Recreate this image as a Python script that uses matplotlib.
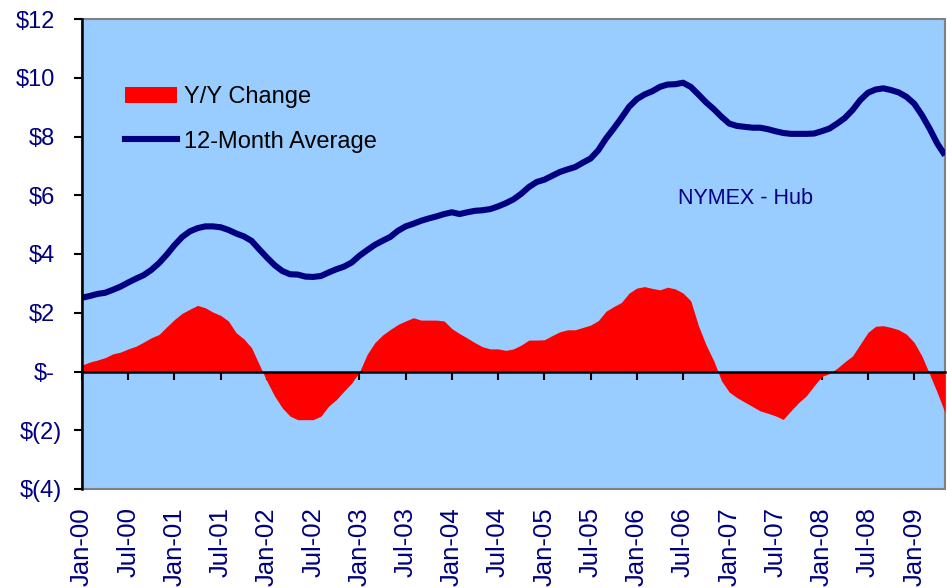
import matplotlib
matplotlib.use("Agg")
import matplotlib.pyplot as plt
import numpy as np
from matplotlib.patches import Rectangle, Patch
from matplotlib.lines import Line2D

plt.rcParams['font.family'] = ['Liberation Sans', 'DejaVu Sans']

# Monthly data Jan-00 .. May-09
avg12 = [2.51, 2.57, 2.64, 2.68, 2.78, 2.89, 3.03, 3.16, 3.28, 3.46, 3.69, 3.98,
         4.30, 4.58, 4.77, 4.88, 4.94, 4.94, 4.91, 4.82, 4.70, 4.60, 4.45, 4.16,
         3.88, 3.62, 3.42, 3.31, 3.30, 3.23, 3.22, 3.25, 3.37, 3.48, 3.57, 3.71,
         3.94, 4.13, 4.31, 4.45, 4.58, 4.79, 4.94, 5.03, 5.13, 5.21, 5.28, 5.36,
         5.42, 5.36, 5.42, 5.47, 5.49, 5.53, 5.62, 5.73, 5.86, 6.05, 6.28, 6.45,
         6.53, 6.66, 6.79, 6.88, 6.96, 7.11, 7.25, 7.53, 7.93, 8.27, 8.63, 9.01,
         9.27, 9.43, 9.54, 9.69, 9.77, 9.78, 9.83, 9.69, 9.43, 9.16, 8.93, 8.67,
         8.44, 8.36, 8.33, 8.30, 8.30, 8.25, 8.18, 8.12, 8.09, 8.09, 8.09, 8.10,
         8.18, 8.27, 8.44, 8.63, 8.90, 9.24, 9.49, 9.60, 9.64, 9.58, 9.50, 9.35,
         9.12, 8.73, 8.27, 7.76, 7.36]

yoy = [0.22, 0.32, 0.39, 0.47, 0.60, 0.66, 0.77, 0.86, 1.00, 1.15, 1.26, 1.52,
       1.77, 1.98, 2.12, 2.25, 2.17, 2.02, 1.91, 1.72, 1.32, 1.11, 0.81, 0.24,
       -0.33, -0.84, -1.24, -1.52, -1.64, -1.64, -1.64, -1.52, -1.18, -0.96, -0.67, -0.39,
       -0.02, 0.58, 0.98, 1.24, 1.43, 1.60, 1.72, 1.83, 1.75, 1.75, 1.75, 1.72,
       1.46, 1.29, 1.14, 0.98, 0.84, 0.77, 0.77, 0.72, 0.77, 0.90, 1.07, 1.07,
       1.08, 1.22, 1.35, 1.42, 1.42, 1.50, 1.58, 1.73, 2.05, 2.21, 2.35, 2.67,
       2.84, 2.89, 2.83, 2.78, 2.87, 2.81, 2.67, 2.41, 1.56, 0.90, 0.36, -0.32,
       -0.70, -0.89, -1.04, -1.19, -1.34, -1.42, -1.51, -1.63, -1.34, -1.06, -0.83, -0.49,
       -0.17, -0.07, 0.11, 0.33, 0.53, 0.93, 1.33, 1.54, 1.56, 1.50, 1.42, 1.27,
       0.99, 0.53, -0.09, -0.72, -1.40]

xlabels = ["Jan-00", "Jul-00", "Jan-01", "Jul-01", "Jan-02", "Jul-02", "Jan-03",
           "Jul-03", "Jan-04", "Jul-04", "Jan-05", "Jul-05", "Jan-06", "Jul-06",
           "Jan-07", "Jul-07", "Jan-08", "Jul-08", "Jan-09"]
yticks = [12, 10, 8, 6, 4, 2, 0, -2, -4]
ylabels = ["$12", "$10", "$8", "$6", "$4", "$2", "$-", "$(2)", "$(4)"]

NAVY = "#000080"
RED = "#FF0000"
BG = "#99CCFF"

fig = plt.figure(figsize=(9.47, 5.88), dpi=100)
ax = fig.add_axes([82/947, (588-489)/588, (945-82)/947, (489-19)/588])
ax.set_facecolor(BG)

x = np.arange(len(yoy))
ax.fill_between(x, 0, yoy, color=RED, lw=0, zorder=2)
ax.plot(x, avg12, color=NAVY, lw=4.4, zorder=3, solid_capstyle='butt')

ax.set_xlim(0, len(yoy) - 1)
ax.set_ylim(-4, 12)

# frame
for s in ['top', 'right']:
    ax.spines[s].set_visible(False)
ax.add_patch(Rectangle((0, 0), 1, 1, transform=ax.transAxes, fill=False,
                       edgecolor='#808080', lw=1.5, clip_on=False, zorder=1))
ax.spines['left'].set_color('black')
ax.spines['left'].set_linewidth(1.8)
ax.spines['left'].set_zorder(5)
ax.spines['bottom'].set_position(('data', 0))
ax.spines['bottom'].set_color('black')
ax.spines['bottom'].set_linewidth(1.8)
ax.spines['bottom'].set_zorder(5)

tick_pos = np.arange(0, 109, 6)
ax.set_xticks(tick_pos)
ax.tick_params(axis='x', direction='out', length=6, width=1.5, color='black',
               labelbottom=False)

ax.set_yticks(yticks)
ax.set_yticklabels(ylabels)
ax.tick_params(axis='y', direction='out', length=6, width=1.5, color='black',
               labelsize=17, labelcolor=NAVY)
for t, v in zip(ax.yaxis.get_major_ticks(), yticks):
    t.set_pad(13.5 if v >= 0 else 8.5)

sec = ax.secondary_xaxis(0)
sec.set_xticks(tick_pos, xlabels)
sec.tick_params(axis='x', length=0, pad=13, labelsize=18.5, labelcolor=NAVY,
                rotation=90)
sec.spines['bottom'].set_visible(False)

ax.text(86.1, 5.88, "NYMEX - Hub", color=NAVY, fontsize=15.5,
        ha='center', va='center', zorder=6)

handles = [Patch(facecolor=RED, edgecolor='none'),
           Line2D([], [], color=NAVY, lw=4.4)]
leg = ax.legend(handles, ["Y/Y Change", "12-Month Average"],
                loc='upper left', bbox_to_anchor=(0.039, 0.877), frameon=False,
                fontsize=17, handlelength=2.2, handletextpad=0.3,
                labelspacing=0.95, borderaxespad=0)

fig.savefig("out.png", dpi=100)
